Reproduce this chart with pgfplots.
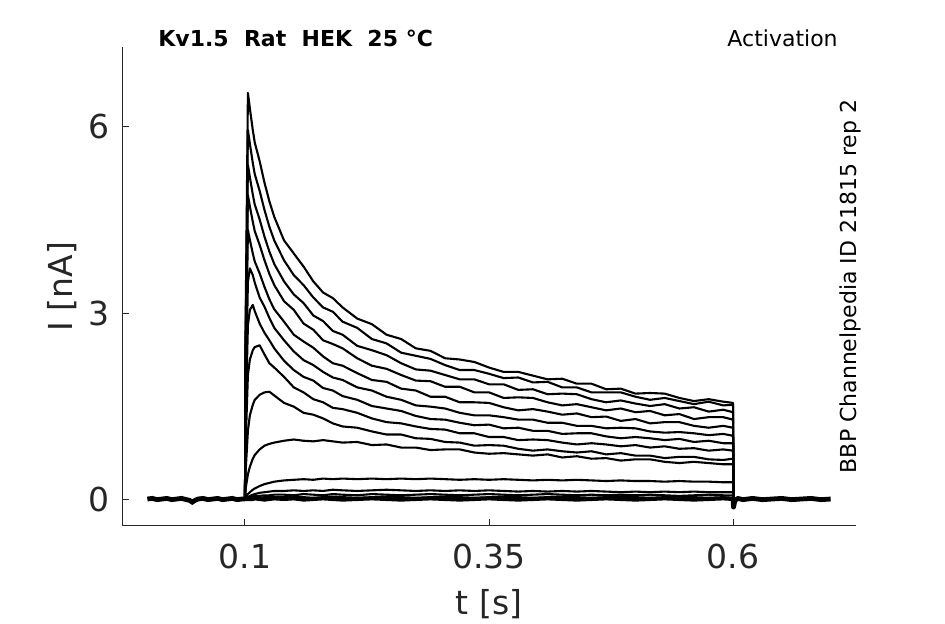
\documentclass[border=0pt]{standalone}
\usepackage{fontspec}
\setmainfont{DejaVu Sans}
\usepackage{pgfplots}
\pgfplotsset{compat=1.18}
\usepackage{pgfplotstable}
\definecolor{axgray}{HTML}{262626}

\pgfplotstableread{
t a1 a2 a3 a4 a5 a6 a7 a8 a9 b c d e f g
0.1 0 0 0 0 0 0 0 0 0 0 0 0 0 0 0
0.1005 2.6 2.4 2.2 2.0 1.8 1.5 1.2 0.8 0.4 0.15 0.03 0.01 0.01 0.00 0.00
0.103 6.55 5.95 5.39 4.90 4.34 3.50 2.80 2.00 1.10 0.40 0.08 0.03 0.02 0.01 0.00
0.105 6.30 5.73 5.19 4.72 4.18 3.72 3.05 2.25 1.35 0.52 0.11 0.05 0.03 0.01 0.00
0.108 5.95 5.42 4.91 4.47 3.96 3.61 3.13 2.40 1.52 0.65 0.15 0.07 0.04 0.02 0.00
0.11 5.75 5.24 4.75 4.32 3.83 3.49 3.03 2.45 1.60 0.71 0.17 0.08 0.05 0.02 0.01
0.115 5.45 4.97 4.51 4.10 3.64 3.25 2.83 2.48 1.68 0.80 0.21 0.10 0.05 0.02 0.00
0.12 5.10 4.66 4.23 3.85 3.42 3.10 2.68 2.33 1.72 0.86 0.24 0.11 0.06 0.03 -0.01
0.125 4.80 4.39 3.99 3.63 3.22 2.92 2.56 2.19 1.73 0.89 0.26 0.12 0.06 0.03 0.00
0.13 4.55 4.17 3.79 3.45 3.06 2.76 2.43 2.12 1.67 0.91 0.28 0.13 0.07 0.03 0.01
0.14 4.17 3.85 3.51 3.19 2.86 2.56 2.23 1.97 1.55 0.94 0.30 0.13 0.07 0.03 0.00
0.15 3.96 3.61 3.30 3.05 2.65 2.38 2.08 1.80 1.49 0.96 0.31 0.14 0.06 0.04 0.01
0.16 3.75 3.45 3.16 2.83 2.54 2.24 1.97 1.72 1.39 0.94 0.32 0.13 0.08 0.03 -0.01
0.17 3.51 3.25 2.96 2.73 2.44 2.16 1.91 1.61 1.36 0.93 0.31 0.14 0.07 0.02 0.00
0.18 3.33 3.09 2.87 2.56 2.30 2.05 1.79 1.56 1.30 0.95 0.33 0.13 0.06 0.03 0.01
0.19 3.24 3.02 2.71 2.50 2.19 1.96 1.75 1.47 1.22 0.93 0.32 0.15 0.08 0.04 0.00
0.2 3.09 2.86 2.65 2.43 2.15 1.92 1.66 1.45 1.17 0.91 0.33 0.14 0.07 0.03 -0.01
0.215 2.91 2.76 2.47 2.27 2.03 1.80 1.60 1.39 1.15 0.92 0.32 0.13 0.06 0.02 0.00
0.23 2.82 2.58 2.40 2.15 1.92 1.75 1.50 1.30 1.09 0.87 0.33 0.14 0.08 0.03 0.01
0.245 2.65 2.51 2.32 2.10 1.89 1.65 1.46 1.24 1.04 0.88 0.32 0.15 0.07 0.04 0.00
0.26 2.58 2.36 2.19 2.00 1.78 1.60 1.42 1.22 1.04 0.83 0.33 0.14 0.06 0.03 -0.01
0.275 2.43 2.31 2.09 1.91 1.75 1.51 1.34 1.17 0.98 0.83 0.32 0.13 0.07 0.02 0.00
0.29 2.39 2.26 2.07 1.90 1.65 1.49 1.29 1.13 0.97 0.79 0.33 0.14 0.08 0.03 0.01
0.305 2.27 2.16 2.00 1.81 1.65 1.46 1.28 1.12 0.92 0.80 0.32 0.13 0.07 0.04 0.00
0.32 2.25 2.08 1.93 1.81 1.56 1.39 1.23 1.06 0.91 0.80 0.31 0.14 0.06 0.03 -0.01
0.335 2.21 2.08 1.93 1.72 1.56 1.35 1.19 1.06 0.86 0.75 0.32 0.13 0.07 0.02 0.00
0.35 2.12 2.02 1.85 1.72 1.55 1.35 1.20 1.00 0.87 0.73 0.31 0.14 0.08 0.03 0.01
0.365 2.05 1.95 1.85 1.63 1.48 1.32 1.14 1.00 0.86 0.74 0.32 0.13 0.07 0.04 0.00
0.38 2.05 1.96 1.76 1.64 1.43 1.28 1.15 0.95 0.81 0.72 0.31 0.12 0.06 0.03 -0.01
0.395 1.99 1.88 1.77 1.63 1.45 1.28 1.10 0.96 0.78 0.70 0.30 0.13 0.07 0.02 0.00
0.41 1.93 1.89 1.69 1.56 1.41 1.23 1.10 0.95 0.80 0.72 0.31 0.12 0.08 0.03 0.01
0.425 1.94 1.80 1.70 1.51 1.36 1.23 1.05 0.91 0.77 0.67 0.30 0.13 0.07 0.04 0.00
0.44 1.86 1.80 1.69 1.53 1.38 1.18 1.06 0.88 0.75 0.69 0.31 0.12 0.06 0.03 -0.01
0.455 1.86 1.72 1.61 1.48 1.32 1.18 1.06 0.90 0.77 0.65 0.30 0.13 0.07 0.02 0.00
0.47 1.77 1.72 1.56 1.43 1.33 1.14 1.01 0.88 0.72 0.66 0.29 0.12 0.06 0.03 0.01
0.485 1.78 1.72 1.59 1.46 1.26 1.15 0.98 0.85 0.74 0.62 0.30 0.11 0.07 0.04 0.00
0.5 1.70 1.65 1.54 1.40 1.29 1.14 1.00 0.87 0.70 0.64 0.29 0.12 0.06 0.03 -0.01
0.515 1.71 1.60 1.50 1.42 1.22 1.09 0.98 0.83 0.70 0.64 0.29 0.11 0.07 0.02 0.00
0.53 1.70 1.63 1.53 1.35 1.24 1.07 0.95 0.85 0.66 0.60 0.28 0.12 0.06 0.03 0.01
0.545 1.63 1.58 1.46 1.37 1.24 1.08 0.97 0.81 0.68 0.58 0.29 0.11 0.05 0.04 0.00
0.56 1.58 1.53 1.48 1.29 1.18 1.06 0.92 0.82 0.68 0.60 0.28 0.12 0.06 0.03 -0.01
0.575 1.61 1.57 1.41 1.32 1.15 1.03 0.94 0.78 0.64 0.58 0.28 0.11 0.07 0.02 0.00
0.59 1.57 1.51 1.44 1.32 1.18 1.05 0.90 0.80 0.63 0.56 0.27 0.11 0.06 0.03 0.01
0.6 1.55 1.52 1.40 1.28 1.15 1.02 0.90 0.78 0.65 0.56 0.27 0.11 0.06 0.02 0.00
0.6005 -0.08 -0.08 -0.08 -0.08 -0.08 -0.08 -0.08 -0.08 -0.08 -0.08 -0.08 -0.08 -0.08 -0.08 -0.08
}\traces

\pgfplotstableread{
t y
0 0.00
0.005 0.01
0.01 -0.01
0.015 0.00
0.02 0.01
0.025 -0.01
0.03 0.00
0.035 0.01
0.04 -0.01
0.043 -0.02
0.046 -0.05
0.049 -0.02
0.052 0.00
0.057 0.01
0.062 -0.01
0.067 0.00
0.072 0.01
0.077 -0.01
0.082 0.00
0.087 0.01
0.092 -0.01
0.097 0.00
0.1 0.00
}\prebase

\pgfplotstableread{
t y
0.6 0.00
0.6005 -0.13
0.602 -0.02
0.605 0.01
0.61 -0.01
0.615 0.00
0.62 0.01
0.63 -0.01
0.64 0.00
0.65 0.01
0.66 -0.01
0.67 0.00
0.68 0.01
0.69 -0.01
0.7 0.00
}\postbase

\begin{document}
\begin{tikzpicture}
\useasboundingbox (0,0) rectangle (472.5pt,312pt);
\begin{axis}[
  at={(61pt,49pt)}, anchor=south west,
  scale only axis, width=367pt, height=239.5pt,
  xmin=-0.026, xmax=0.726, ymin=-0.435, ymax=7.29,
  clip=false,
  axis x line*=bottom, axis y line*=left,
  axis line style={draw=axgray, line width=0.5pt},
  tick align=inside, major tick length=3.5pt,
  tick style={draw=axgray, line width=0.5pt},
  xtick={0.1,0.35,0.6}, xticklabels={0.1,0.35,0.6},
  ytick={0,3,6}, yticklabels={0,3,6},
  ticklabel style={font=\fontsize{16.5}{19}\selectfont, text=axgray},
  xticklabel style={yshift=-5.5pt},
  yticklabel style={xshift=-2.5pt},
  xlabel={t [s]}, ylabel={I [nA]},
  label style={font=\fontsize{16.5}{19}\selectfont, text=axgray},
  xlabel style={at={(axis description cs:0.5,-0.1858)}, anchor=base},
  ylabel style={at={(axis description cs:-0.0681,0.5)}, anchor=base},
  tr/.style={black, line width=1.05pt, line join=round},
]
\addplot[black, line width=2.4pt] table[x=t,y=y]{\prebase};
\addplot[black, line width=2.4pt, line join=round] table[x=t,y=y]{\postbase};
\addplot[tr, line width=2pt] table[x=t,y=g]{\traces};
\addplot[tr] table[x=t,y=f]{\traces};
\addplot[tr] table[x=t,y=e]{\traces};
\addplot[tr] table[x=t,y=d]{\traces};
\addplot[tr] table[x=t,y=c]{\traces};
\addplot[tr] table[x=t,y=b]{\traces};
\addplot[tr] table[x=t,y=a9]{\traces};
\addplot[tr] table[x=t,y=a8]{\traces};
\addplot[tr] table[x=t,y=a7]{\traces};
\addplot[tr] table[x=t,y=a6]{\traces};
\addplot[tr] table[x=t,y=a5]{\traces};
\addplot[tr] table[x=t,y=a4]{\traces};
\addplot[tr] table[x=t,y=a3]{\traces};
\addplot[tr] table[x=t,y=a2]{\traces};
\addplot[tr] table[x=t,y=a1]{\traces};
\node[inner sep=0pt, anchor=base west, font=\fontsize{11}{13}\selectfont\bfseries] at (axis description cs:0.049,1.0) {Kv1.5~~Rat~~HEK~~25~°C};
\node[inner sep=0pt, anchor=base east, font=\fontsize{11}{13}\selectfont] at (axis description cs:0.9755,1.002) {Activation};
\node[inner sep=0pt, rotate=90, anchor=base, font=\fontsize{11}{13}\selectfont] at (axis description cs:1,0.5) {BBP Channelpedia ID 21815 rep 2};
\end{axis}
\end{tikzpicture}
\end{document}
